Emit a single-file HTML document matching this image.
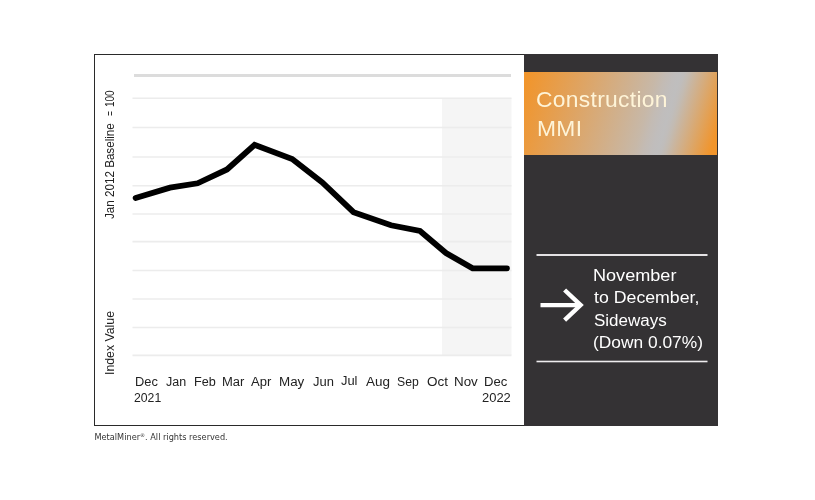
<!DOCTYPE html>
<html><head><meta charset="utf-8">
<style>
html,body{margin:0;padding:0;background:#fff;}
body{width:815px;height:500px;position:relative;overflow:hidden;font-family:"Liberation Sans",sans-serif;}
#frame{position:absolute;left:94px;top:54px;width:624px;height:372px;box-sizing:border-box;border:1px solid #2a2a2a;background:#fff;}
#panel{position:absolute;left:524px;top:54px;width:194px;height:372px;background:#343234;}
#orange{position:absolute;left:524px;top:72px;width:193px;height:83px;background:linear-gradient(106deg,#f1952c 0.0%,#f1952c 2.0%,#e1a25c 25.0%,#cfb190 50.0%,#c7b8a8 61.5%,#c3bbb4 65.5%,#c0bdbc 69.5%,#bfbebe 72.2%,#c0bdbb 74.0%,#c3bbb2 76.0%,#cab59e 79.0%,#d5ac7e 84.0%,#e0a35d 89.0%,#e99b43 93.0%,#f1952c 96.5%,#f1952c 100.0%);}
#title{position:absolute;left:536.1px;top:86.2px;transform-origin:0 0;transform:scaleX(1.037);color:#fef4d8;font-size:22px;line-height:28.5px;letter-spacing:0.3px;white-space:nowrap;}
.m{position:absolute;left:593px;color:#fff;font-size:15.6px;line-height:22px;white-space:nowrap;transform-origin:0 0;}
svg{position:absolute;left:0;top:0;}
.xl{position:absolute;top:374.2px;font-size:12px;line-height:16px;color:#222;white-space:nowrap;transform-origin:0 0;}
.yl{position:absolute;font-size:12px;color:#222;white-space:nowrap;transform-origin:0 0;transform:rotate(-90deg);line-height:1;}
#foot{position:absolute;left:94.5px;top:432px;font-family:"DejaVu Sans","Liberation Sans",sans-serif;font-size:8.2px;color:#333;line-height:10px;white-space:nowrap;}
</style></head><body>
<div id="frame"></div>
<svg width="815" height="500" viewBox="0 0 815 500">
<rect x="442" y="98" width="69.5" height="257" fill="#f5f5f5"/>
<rect x="134" y="74" width="377" height="3" fill="#dcdcdc"/>
<g stroke="#ececec" stroke-width="1.6">
<line x1="132.5" x2="511.5" y1="98.3" y2="98.3"/>
<line x1="132.5" x2="511.5" y1="127.5" y2="127.5"/>
<line x1="132.5" x2="511.5" y1="157" y2="157"/>
<line x1="132.5" x2="511.5" y1="185.8" y2="185.8"/>
<line x1="132.5" x2="511.5" y1="214" y2="214"/>
<line x1="132.5" x2="511.5" y1="241.6" y2="241.6"/>
<line x1="132.5" x2="511.5" y1="270.5" y2="270.5"/>
<line x1="132.5" x2="511.5" y1="299" y2="299"/>
<line x1="132.5" x2="511.5" y1="327.5" y2="327.5"/>
<line x1="132.5" x2="511.5" y1="355.4" y2="355.4"/>
</g>
<polyline fill="none" stroke="#000" stroke-width="5.8" stroke-linecap="round" stroke-linejoin="miter" points="135.6,198 170,187.6 197.6,183.3 227,169.5 254.6,144.8 292.2,159 322.3,182.5 353.5,212.2 391,225.3 420,231 446,253 472.6,268.3 507,268.3"/>
</svg>
<div class="yl" style="left:104px;top:218.5px;transform:rotate(-90deg) scaleX(0.97);">Jan 2012 Baseline</div>
<div class="yl" style="left:104px;top:115.6px;transform:rotate(-90deg) scaleX(0.71);">=</div>
<div class="yl" style="left:104px;top:107.2px;transform:rotate(-90deg) scaleX(0.83);">100</div>
<div class="yl" style="left:104px;top:375.3px;transform:rotate(-90deg) scaleX(1.024);">Index Value</div>
<div class="xl" style="left:134.7px;transform:scaleX(1.070);">Dec</div>
<div class="xl" style="left:165.7px;transform:scaleX(1.041);">Jan</div>
<div class="xl" style="left:193.6px;transform:scaleX(1.055);">Feb</div>
<div class="xl" style="left:222.1px;transform:scaleX(1.082);">Mar</div>
<div class="xl" style="left:251.3px;transform:scaleX(1.086);">Apr</div>
<div class="xl" style="left:278.7px;transform:scaleX(1.116);">May</div>
<div class="xl" style="left:312.5px;transform:scaleX(1.079);">Jun</div>
<div class="xl" style="left:340.8px;top:373.2px;transform:scaleX(1.074);">Jul</div>
<div class="xl" style="left:366.3px;transform:scaleX(1.122);">Aug</div>
<div class="xl" style="left:397.2px;transform:scaleX(1.017);">Sep</div>
<div class="xl" style="left:426.9px;transform:scaleX(1.122);">Oct</div>
<div class="xl" style="left:453.9px;transform:scaleX(1.116);">Nov</div>
<div class="xl" style="left:483.8px;transform:scaleX(1.090);">Dec</div>
<div class="xl" style="left:133.9px;top:390.2px;transform:scaleX(1.020);">2021</div>
<div class="xl" style="left:482.4px;top:390.2px;transform:scaleX(1.078);">2022</div>
<div id="panel"></div>
<div id="orange"></div>
<div id="title">Construction<br><span style="position:relative;left:1px">MMI</span></div>
<svg width="815" height="500" viewBox="0 0 815 500">
<rect x="536.5" y="254" width="171" height="2" fill="#e4e2e4"/>
<rect x="536.5" y="360.7" width="171" height="1.6" fill="#efedef"/>
<g fill="none" stroke="#fff" stroke-width="4.2">
<line x1="540.5" y1="305.1" x2="581" y2="305.1"/>
<polyline points="564.6,290 580.6,305.1 564.6,320.2" stroke-width="4.4"/>
</g>
</svg>
<div class="m" style="top:264.5px;transform:scaleX(1.16);">November</div>
<div class="m" style="top:287.1px;left:593.8px;transform:scaleX(1.137);">to December,</div>
<div class="m" style="top:309.7px;left:593.5px;transform:scaleX(1.09);">Sideways</div>
<div class="m" style="top:332.3px;left:593.2px;transform:scaleX(1.113);">(Down 0.07%)</div>
<div id="foot">MetalMiner<span style="font-size:5px;vertical-align:3px;line-height:0">®</span>. All rights reserved.</div>
</body></html>
